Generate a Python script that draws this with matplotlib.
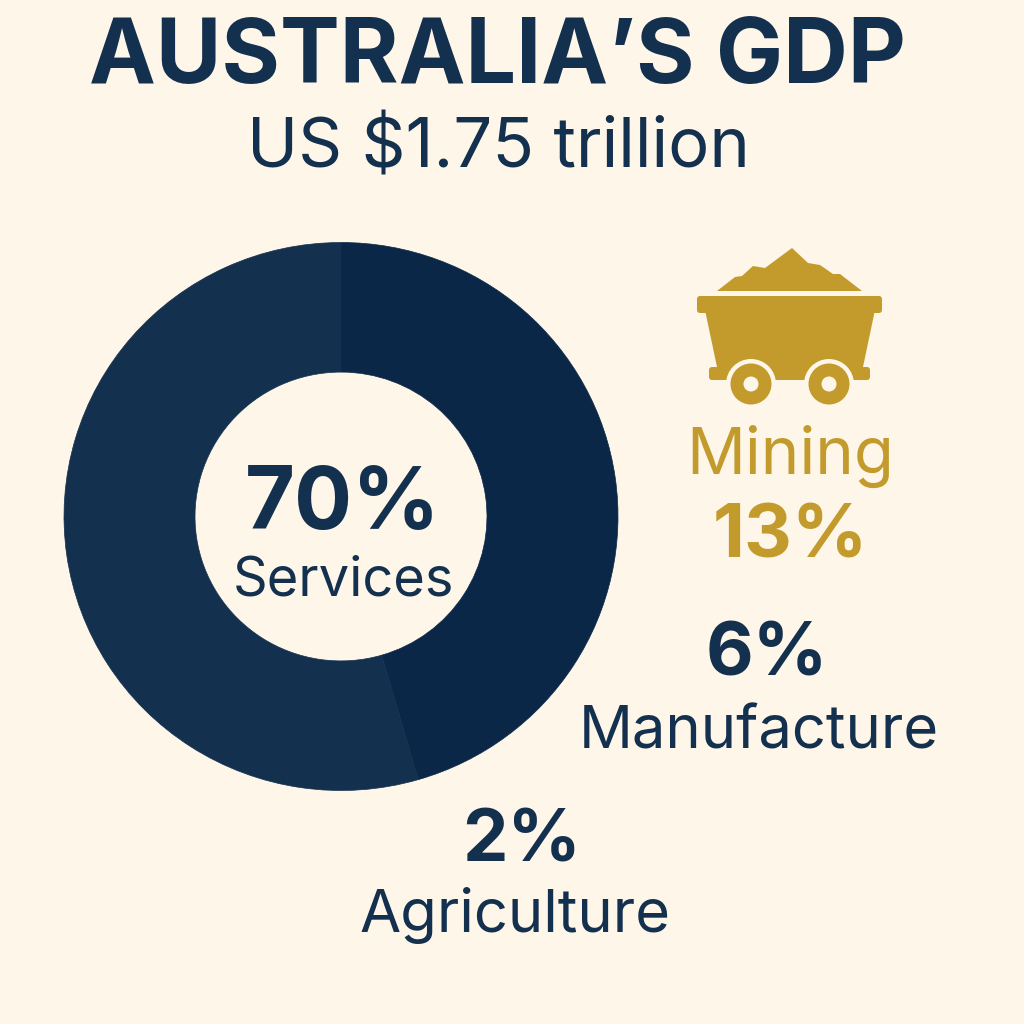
import matplotlib
matplotlib.use("Agg")
import matplotlib.pyplot as plt
from matplotlib.patches import Polygon, Circle, FancyBboxPatch

# data
wedge_sizes = [45.5, 54.5]
wedge_colors = ["#0b2747", "#14304f"]
title = "AUSTRALIA’S GDP"
subtitle = "US $1.75 trillion"
center_value, center_label = "70%", "Services"
mining_label, mining_value = "Mining", "13%"
manuf_value, manuf_label = "6%", "Manufacture"
agri_value, agri_label = "2%", "Agriculture"

BG = "#fef6e8"
NAVY = "#14304f"
GOLD = "#c39b2d"

plt.rcParams["font.family"] = ["Inter", "DejaVu Sans"]

fig = plt.figure(figsize=(10.24, 10.24), dpi=100, facecolor=BG)

# overlay in pixel coords for text and icon
ax = fig.add_axes([0, 0, 1, 1], zorder=2)
ax.set_xlim(0, 1024)
ax.set_ylim(1024, 0)
ax.axis("off")

# donut, slightly squashed like the original
cx, cy, rx, ry, r_in = 341, 516.5, 277, 274, 146
ax_pie = fig.add_axes([(cx - rx) / 1024, 1 - (cy + ry) / 1024,
                       2 * rx / 1024, 2 * ry / 1024], zorder=1)
wedges, _ = ax_pie.pie(wedge_sizes, colors=wedge_colors, startangle=90, counterclock=False,
                       radius=1, wedgeprops=dict(width=1 - r_in / rx))
# edge in the wedge's own colour hides the seam between the two
for w, c in zip(wedges, wedge_colors):
    w.set_edgecolor(c)
    w.set_linewidth(0.5)
ax_pie.set_aspect("auto")
ax_pie.set_xlim(-1, 1)
ax_pie.set_ylim(-1, 1)


def label(x, y, s, size, color=NAVY, weight="normal"):
    ax.text(x, y, s, fontsize=size, color=color, weight=weight,
            ha="center", va="center_baseline")


label(497, 50, title, 64.5, weight="bold")
label(498, 142, subtitle, 49.5)
label(343, 497, center_value, 62, weight="bold")
label(343, 576, center_label, 39)
label(790, 449, mining_label, 47, color=GOLD)
label(790, 530, mining_value, 53.5, color=GOLD, weight="bold")
label(767, 649, manuf_value, 53, weight="bold")
label(759, 727, manuf_label, 43)
label(522, 835, agri_value, 52, weight="bold")
label(515, 910, agri_label, 43)

# mine cart icon
pile = [(717, 291), (735, 277), (742, 276), (753, 266), (765, 268), (792, 248),
        (808, 263), (820, 265), (833, 274), (840, 274), (862, 291)]
body = [(705, 310), (717, 367), (863, 367), (875, 310)]
ax.add_patch(Polygon(pile, closed=True, fc=GOLD, ec="none"))
ax.add_patch(Polygon(body, closed=True, fc=GOLD, ec="none"))
ax.add_patch(FancyBboxPatch((700, 299), 179, 11, boxstyle="round,pad=3",
                            fc=GOLD, ec="none"))
ax.add_patch(FancyBboxPatch((712, 370), 155, 7, boxstyle="round,pad=3",
                            fc=GOLD, ec="none"))
for wx in (751, 829):
    ax.add_patch(Circle((wx, 384), 25, fc=BG, ec="none"))
    ax.add_patch(Circle((wx, 384), 20.5, fc=GOLD, ec="none"))
    ax.add_patch(Circle((wx, 384), 7.5, fc=BG, ec="none"))

fig.savefig("out.png", dpi=100, facecolor=BG)
